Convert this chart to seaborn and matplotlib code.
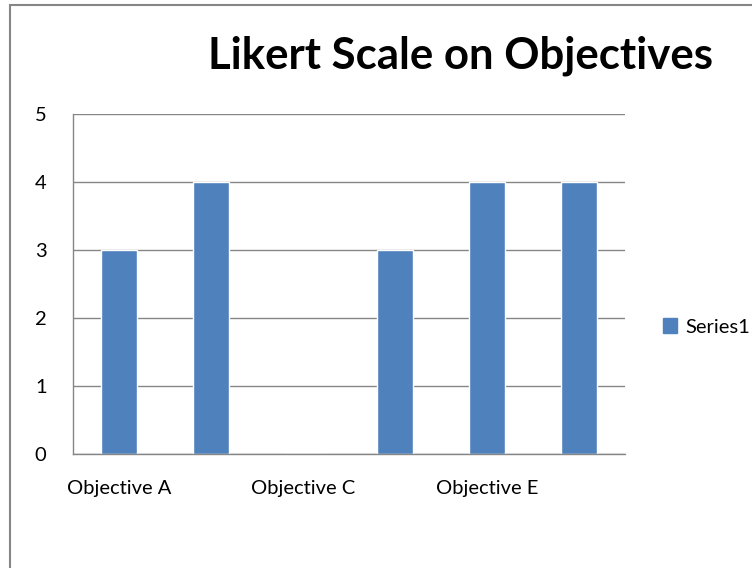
import matplotlib
matplotlib.use("Agg")
import matplotlib.pyplot as plt
import seaborn as sns
from matplotlib.patches import Rectangle
import pandas as pd

categories = ["Objective A", "Objective B", "Objective C", "Objective D", "Objective E", "Objective F"]
values = [3, 4, 0, 3, 4, 4]
shown_labels = ["Objective A", "", "Objective C", "", "Objective E", ""]
yticks = [0, 1, 2, 3, 4, 5]

sns.set_theme(style="white")
plt.rcParams['font.family'] = ['Lato', 'DejaVu Sans']
plt.rcParams['text.color'] = 'black'

fig = plt.figure(figsize=(7.52, 5.68), dpi=100)
ax = fig.add_axes([73/752, 1-454/568, (625-73)/752, (454-114)/568])

df = pd.DataFrame({"cat": categories, "val": values})
sns.barplot(data=df, x="cat", y="val", color="#4F81BD", width=0.4, ax=ax, saturation=1)

grid_c = "#868686"
ax.set_ylim(0, 5)
ax.set_yticks(yticks)
ax.set_xlim(-0.5, len(categories) - 0.5)
ax.yaxis.grid(True, color=grid_c, linewidth=1)
ax.set_axisbelow(True)
for s in ["top", "right"]:
    ax.spines[s].set_visible(False)
for s in ["left", "bottom"]:
    ax.spines[s].set_color(grid_c)
    ax.spines[s].set_linewidth(1)
ax.set_xticks(range(len(categories)))
ax.set_xticklabels(shown_labels)
ax.tick_params(axis="y", length=0, pad=19, labelsize=14.5, colors="black")
ax.tick_params(axis="x", length=0, pad=19, labelsize=14.5, colors="black")
ax.set_xlabel("")
ax.set_ylabel("")

fig.text(461/752, 1-56/568, "Likert Scale on Objectives", ha="center", va="center",
         fontsize=31.5, fontweight="bold", color="black")

handle = Rectangle((0, 0), 1, 1, color="#4F81BD")
fig.legend([handle], ["Series1"], loc="center left", bbox_to_anchor=(655/752, 1-327/568),
           frameon=False, fontsize=14.5, handlelength=0.7, handleheight=0.7, handletextpad=0.4,
           borderaxespad=0, labelcolor="black")

fig.patches.append(Rectangle((10/752, -0.1), 1.0, 0.1 + (568-5)/568, transform=fig.transFigure,
                             fill=False, edgecolor="#868686", linewidth=1.5))

fig.savefig("out.png", dpi=100)
